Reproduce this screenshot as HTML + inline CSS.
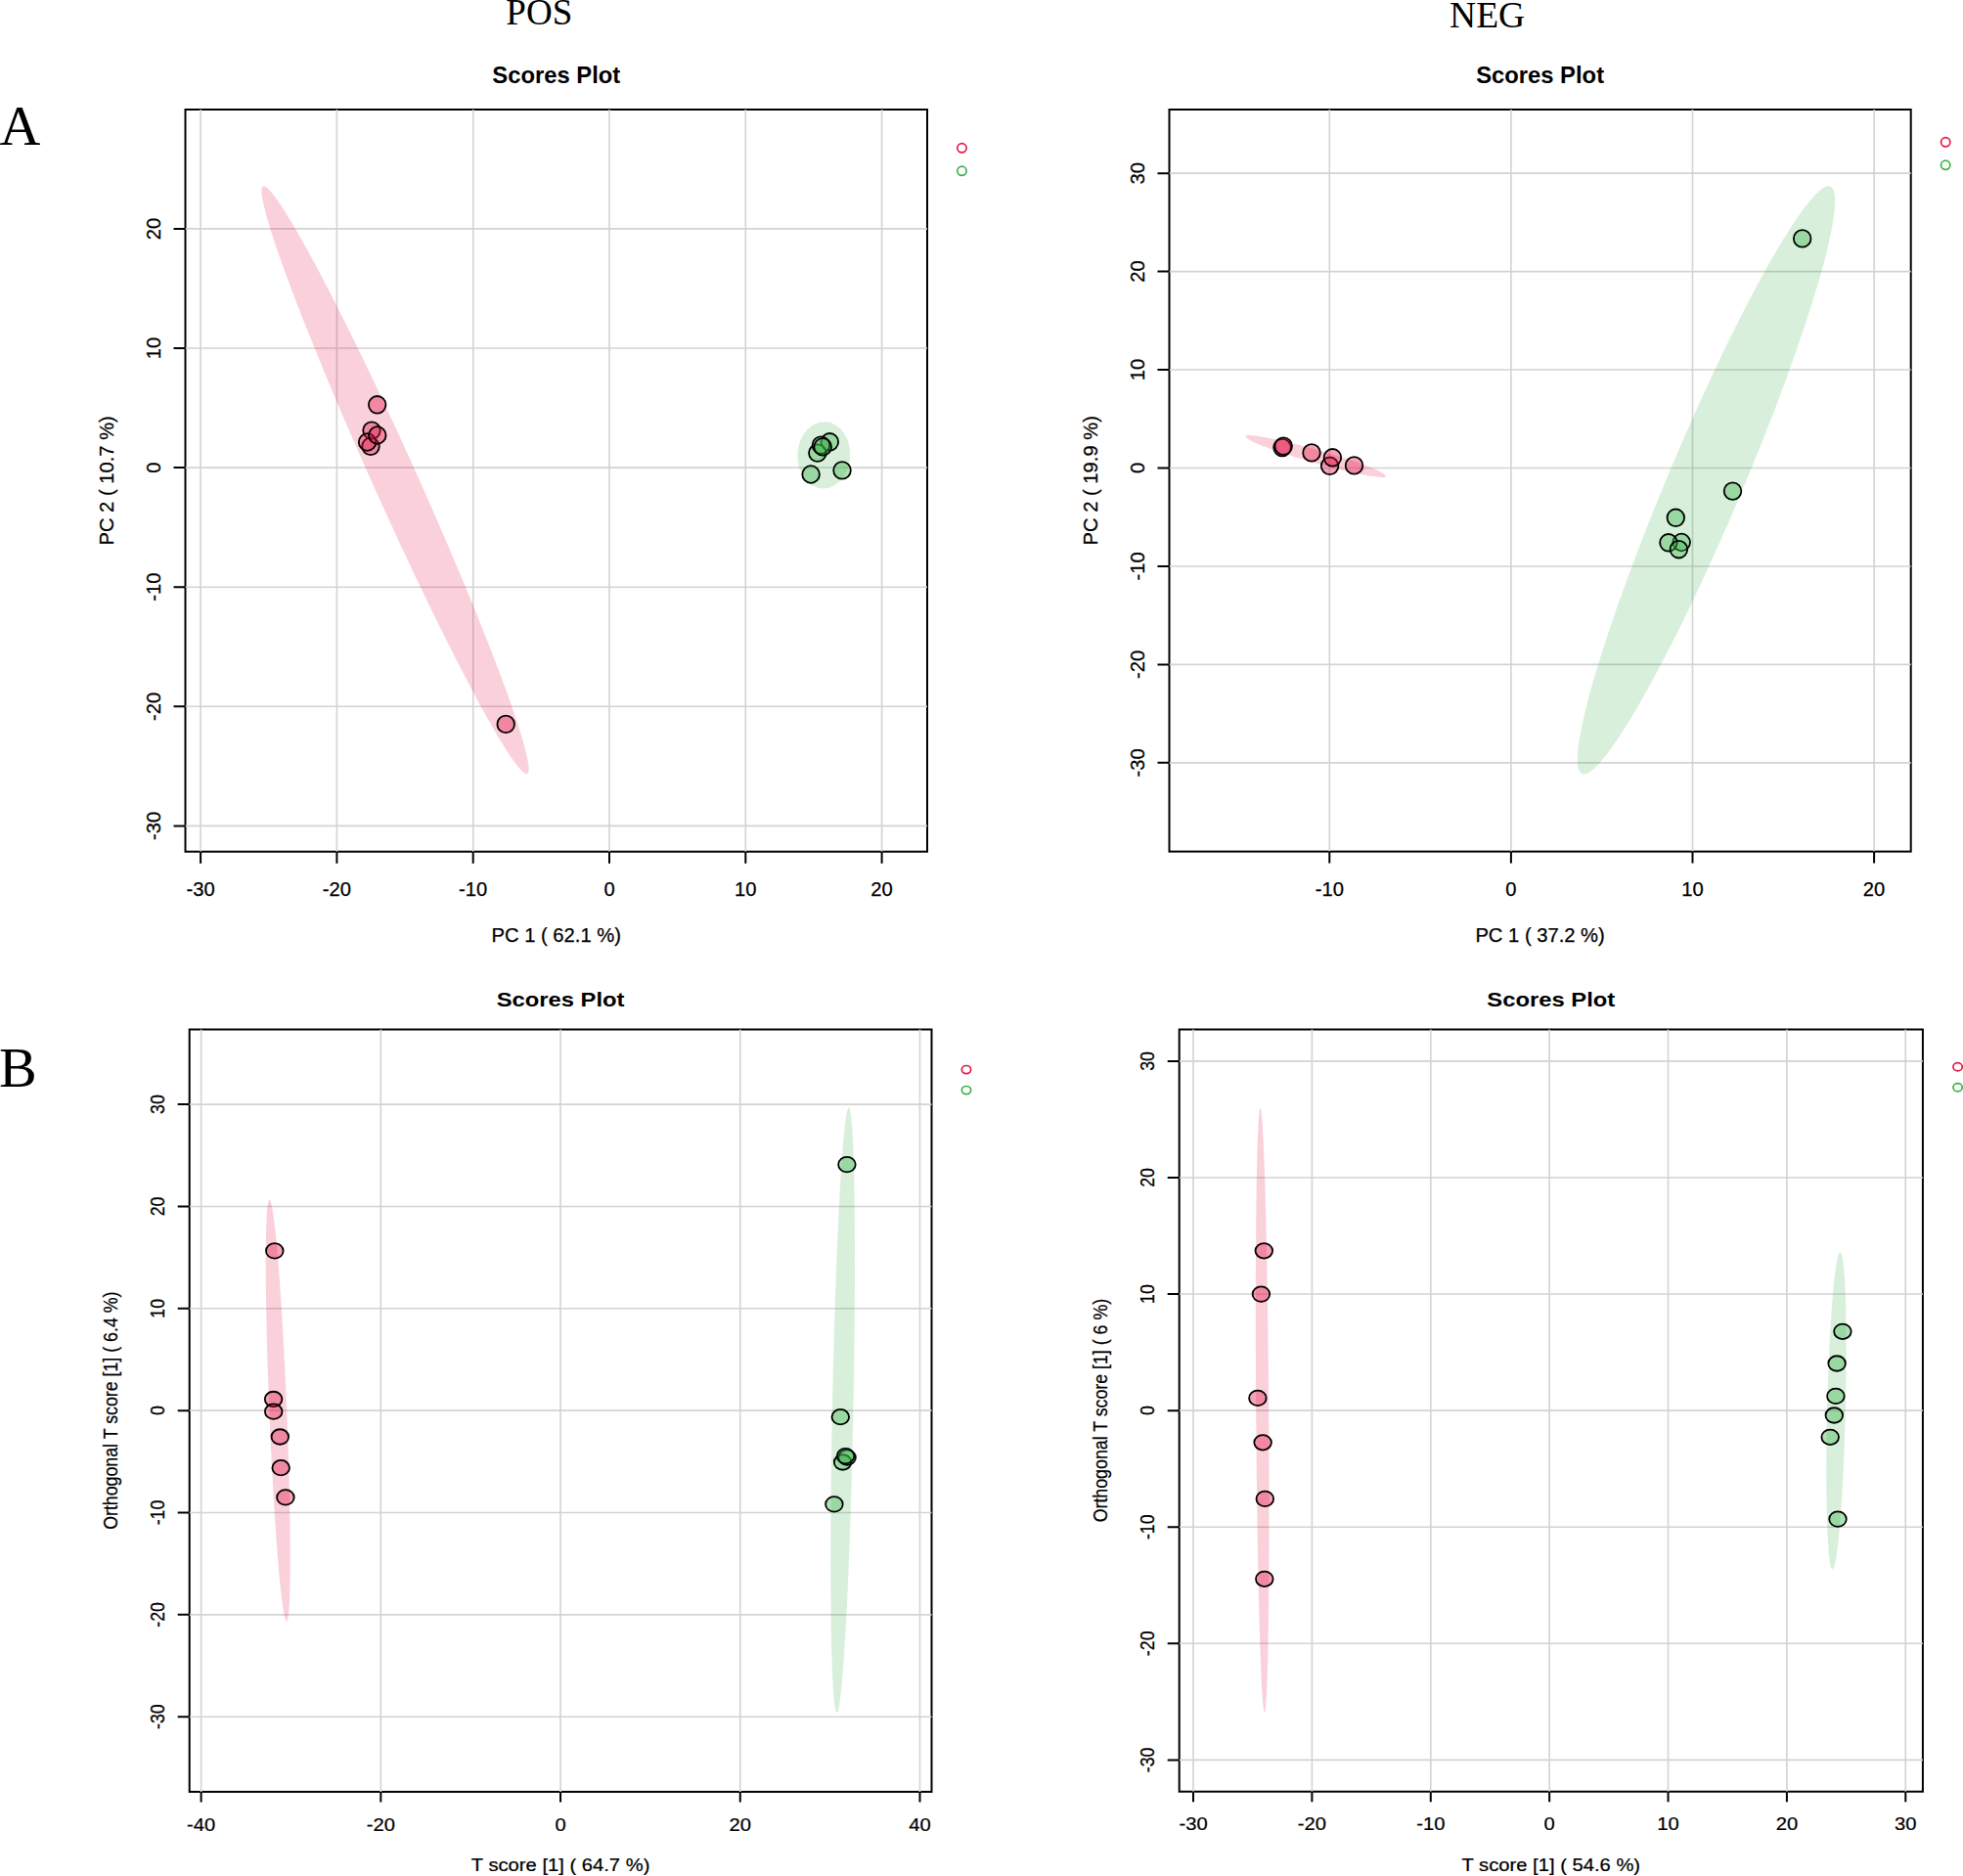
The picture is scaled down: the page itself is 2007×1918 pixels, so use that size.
<!DOCTYPE html>
<html><head><meta charset="utf-8"><title>Scores Plot</title>
<style>
html,body{margin:0;padding:0;background:#fff;}
body{width:2007px;height:1918px;overflow:hidden;}
svg{display:block;}
.t{font-family:"Liberation Sans",Arial,sans-serif;font-size:20.2px;text-anchor:middle;fill:#000;stroke:#000;stroke-width:0.25px;}
.m{font-family:"Liberation Sans",Arial,sans-serif;font-size:23.8px;font-weight:bold;text-anchor:middle;fill:#000;}
.big{font-family:"Liberation Serif","Times New Roman",serif;font-size:37px;text-anchor:middle;fill:#000;}
.let{font-family:"Liberation Serif","Times New Roman",serif;font-size:58px;fill:#000;}
</style></head>
<body>
<svg width="2007" height="1918" viewBox="0 0 2007 1918">
<rect width="2007" height="1918" fill="#fff"/>
<text class="big" x="551.3" y="25">POS</text>
<text class="big" x="1520.6" y="28" style="font-size:37.5px">NEG</text>
<text class="let" x="-0.5" y="147.8">A</text>
<text class="let" x="-1" y="1110.6">B</text>
<rect x="189.5" y="112" width="758.5" height="758.7" fill="none" stroke="#000" stroke-width="2"/>
<path d="M205.1 112V870.7M344.4 112V870.7M483.7 112V870.7M623 112V870.7M762.3 112V870.7M901.6 112V870.7M189.5 844.4H948M189.5 722.3H948M189.5 600.2H948M189.5 478.1H948M189.5 356H948M189.5 233.9H948" stroke="#d3d3d3" stroke-width="1.6" fill="none"/>
<path d="M205.1 870.7v12M344.4 870.7v12M483.7 870.7v12M623 870.7v12M762.3 870.7v12M901.6 870.7v12M189.5 844.4h-12M189.5 722.3h-12M189.5 600.2h-12M189.5 478.1h-12M189.5 356h-12M189.5 233.9h-12" stroke="#000" stroke-width="2" fill="none"/>
<text class="t" transform="translate(205.1 915.7) scale(1 1)">-30</text>
<text class="t" transform="translate(344.4 915.7) scale(1 1)">-20</text>
<text class="t" transform="translate(483.7 915.7) scale(1 1)">-10</text>
<text class="t" transform="translate(623 915.7) scale(1 1)">0</text>
<text class="t" transform="translate(762.3 915.7) scale(1 1)">10</text>
<text class="t" transform="translate(901.6 915.7) scale(1 1)">20</text>
<text class="t" transform="translate(163.5 844.4) scale(1 1) rotate(-90)">-30</text>
<text class="t" transform="translate(163.5 722.3) scale(1 1) rotate(-90)">-20</text>
<text class="t" transform="translate(163.5 600.2) scale(1 1) rotate(-90)">-10</text>
<text class="t" transform="translate(163.5 478.1) scale(1 1) rotate(-90)">0</text>
<text class="t" transform="translate(163.5 356) scale(1 1) rotate(-90)">10</text>
<text class="t" transform="translate(163.5 233.9) scale(1 1) rotate(-90)">20</text>
<text class="t" transform="translate(568.75 963) scale(1 1)">PC 1 ( 62.1 %)</text>
<text class="t" transform="translate(115.7 491.35) scale(1 1) rotate(-90)">PC 2 ( 10.7 %)</text>
<text class="m" transform="translate(568.75 85.1) scale(1 1)">Scores Plot</text>
<clipPath id="c139989327846560"><rect x="189.5" y="112" width="758.5" height="758.7"/></clipPath>
<g clip-path="url(#c139989327846560)">
<ellipse cx="404" cy="490.75" rx="329.26" ry="22.58" transform="rotate(65.79 404 490.75)" fill="#e6194B" fill-opacity="0.2"/>
<ellipse cx="842.3" cy="465.4" rx="34.16" ry="26.99" transform="rotate(92.23 842.3 465.4)" fill="#3cb44b" fill-opacity="0.2"/>
<ellipse cx="385.7" cy="413.8" rx="8.8" ry="8.8" fill="#e6194B" fill-opacity="0.4" stroke="#000" stroke-width="1.8"/>
<ellipse cx="380" cy="440.1" rx="8.8" ry="8.8" fill="#e6194B" fill-opacity="0.4" stroke="#000" stroke-width="1.8"/>
<ellipse cx="379" cy="456.3" rx="8.8" ry="8.8" fill="#e6194B" fill-opacity="0.4" stroke="#000" stroke-width="1.8"/>
<ellipse cx="375.6" cy="452" rx="8.8" ry="8.8" fill="#e6194B" fill-opacity="0.4" stroke="#000" stroke-width="1.8"/>
<ellipse cx="385.8" cy="445" rx="8.8" ry="8.8" fill="#e6194B" fill-opacity="0.4" stroke="#000" stroke-width="1.8"/>
<ellipse cx="517.2" cy="740.4" rx="8.8" ry="8.8" fill="#e6194B" fill-opacity="0.4" stroke="#000" stroke-width="1.8"/>
<ellipse cx="829.1" cy="485" rx="8.8" ry="8.8" fill="#3cb44b" fill-opacity="0.4" stroke="#000" stroke-width="1.8"/>
<ellipse cx="861" cy="480.9" rx="8.8" ry="8.8" fill="#3cb44b" fill-opacity="0.4" stroke="#000" stroke-width="1.8"/>
<ellipse cx="848.3" cy="451.8" rx="8.8" ry="8.8" fill="#3cb44b" fill-opacity="0.4" stroke="#000" stroke-width="1.8"/>
<ellipse cx="835.8" cy="463.1" rx="8.8" ry="8.8" fill="#3cb44b" fill-opacity="0.4" stroke="#000" stroke-width="1.8"/>
<ellipse cx="839.4" cy="455.1" rx="8.8" ry="8.8" fill="#3cb44b" fill-opacity="0.4" stroke="#000" stroke-width="1.8"/>
<ellipse cx="841.2" cy="456.9" rx="8.8" ry="8.8" fill="#3cb44b" fill-opacity="0.4" stroke="#000" stroke-width="1.8"/>
</g>
<ellipse cx="983.45" cy="151.3" rx="4.65" ry="4.65" fill="none" stroke="#e6194B" stroke-width="1.7"/>
<ellipse cx="983.45" cy="174.8" rx="4.65" ry="4.65" fill="none" stroke="#3cb44b" stroke-width="1.7"/>
<rect x="1195.5" y="112" width="758.2" height="758.6" fill="none" stroke="#000" stroke-width="2"/>
<path d="M1359.3 112V870.6M1544.9 112V870.6M1730.5 112V870.6M1916.1 112V870.6M1195.5 779.85H1953.7M1195.5 679.4H1953.7M1195.5 578.95H1953.7M1195.5 478.5H1953.7M1195.5 378.05H1953.7M1195.5 277.6H1953.7M1195.5 177.15H1953.7" stroke="#d3d3d3" stroke-width="1.6" fill="none"/>
<path d="M1359.3 870.6v12M1544.9 870.6v12M1730.5 870.6v12M1916.1 870.6v12M1195.5 779.85h-12M1195.5 679.4h-12M1195.5 578.95h-12M1195.5 478.5h-12M1195.5 378.05h-12M1195.5 277.6h-12M1195.5 177.15h-12" stroke="#000" stroke-width="2" fill="none"/>
<text class="t" transform="translate(1359.3 915.6) scale(1 1)">-10</text>
<text class="t" transform="translate(1544.9 915.6) scale(1 1)">0</text>
<text class="t" transform="translate(1730.5 915.6) scale(1 1)">10</text>
<text class="t" transform="translate(1916.1 915.6) scale(1 1)">20</text>
<text class="t" transform="translate(1169.5 779.85) scale(1 1) rotate(-90)">-30</text>
<text class="t" transform="translate(1169.5 679.4) scale(1 1) rotate(-90)">-20</text>
<text class="t" transform="translate(1169.5 578.95) scale(1 1) rotate(-90)">-10</text>
<text class="t" transform="translate(1169.5 478.5) scale(1 1) rotate(-90)">0</text>
<text class="t" transform="translate(1169.5 378.05) scale(1 1) rotate(-90)">10</text>
<text class="t" transform="translate(1169.5 277.6) scale(1 1) rotate(-90)">20</text>
<text class="t" transform="translate(1169.5 177.15) scale(1 1) rotate(-90)">30</text>
<text class="t" transform="translate(1574.6 962.9) scale(1 1)">PC 1 ( 37.2 %)</text>
<text class="t" transform="translate(1121.7 491.3) scale(1 1) rotate(-90)">PC 2 ( 19.9 %)</text>
<text class="m" transform="translate(1574.6 85.1) scale(1 1)">Scores Plot</text>
<clipPath id="c139989327846608"><rect x="1195.5" y="112" width="758.2" height="758.6"/></clipPath>
<g clip-path="url(#c139989327846608)">
<ellipse cx="1345.2" cy="466.5" rx="74.42" ry="6.73" transform="rotate(15.89 1345.2 466.5)" fill="#e6194B" fill-opacity="0.2"/>
<ellipse cx="1744.5" cy="490.9" rx="326.07" ry="37.99" transform="rotate(112.92 1744.5 490.9)" fill="#3cb44b" fill-opacity="0.2"/>
<ellipse cx="1311" cy="457.6" rx="8.8" ry="8.8" fill="#e6194B" fill-opacity="0.4" stroke="#000" stroke-width="1.8"/>
<ellipse cx="1312.2" cy="456.1" rx="8.8" ry="8.8" fill="#e6194B" fill-opacity="0.4" stroke="#000" stroke-width="1.8"/>
<ellipse cx="1341" cy="462.9" rx="8.8" ry="8.8" fill="#e6194B" fill-opacity="0.4" stroke="#000" stroke-width="1.8"/>
<ellipse cx="1359.6" cy="476.3" rx="8.8" ry="8.8" fill="#e6194B" fill-opacity="0.4" stroke="#000" stroke-width="1.8"/>
<ellipse cx="1362.4" cy="467.8" rx="8.8" ry="8.8" fill="#e6194B" fill-opacity="0.4" stroke="#000" stroke-width="1.8"/>
<ellipse cx="1384.5" cy="475.9" rx="8.8" ry="8.8" fill="#e6194B" fill-opacity="0.4" stroke="#000" stroke-width="1.8"/>
<ellipse cx="1842.7" cy="243.9" rx="8.8" ry="8.8" fill="#3cb44b" fill-opacity="0.4" stroke="#000" stroke-width="1.8"/>
<ellipse cx="1771.5" cy="502.1" rx="8.8" ry="8.8" fill="#3cb44b" fill-opacity="0.4" stroke="#000" stroke-width="1.8"/>
<ellipse cx="1713.3" cy="529.3" rx="8.8" ry="8.8" fill="#3cb44b" fill-opacity="0.4" stroke="#000" stroke-width="1.8"/>
<ellipse cx="1719.2" cy="554.5" rx="8.8" ry="8.8" fill="#3cb44b" fill-opacity="0.4" stroke="#000" stroke-width="1.8"/>
<ellipse cx="1705.9" cy="554.8" rx="8.8" ry="8.8" fill="#3cb44b" fill-opacity="0.4" stroke="#000" stroke-width="1.8"/>
<ellipse cx="1716.4" cy="561.7" rx="8.8" ry="8.8" fill="#3cb44b" fill-opacity="0.4" stroke="#000" stroke-width="1.8"/>
</g>
<ellipse cx="1989.2" cy="145.3" rx="4.65" ry="4.65" fill="none" stroke="#e6194B" stroke-width="1.7"/>
<ellipse cx="1989.2" cy="168.8" rx="4.65" ry="4.65" fill="none" stroke="#3cb44b" stroke-width="1.7"/>
<rect x="193.7" y="1052.5" width="758.8" height="779.4" fill="none" stroke="#000" stroke-width="2"/>
<path d="M205.61 1052.5V1831.9M389.33 1052.5V1831.9M573.05 1052.5V1831.9M756.77 1052.5V1831.9M940.49 1052.5V1831.9M193.7 1755.2H952.5M193.7 1650.85H952.5M193.7 1546.5H952.5M193.7 1442.15H952.5M193.7 1337.8H952.5M193.7 1233.45H952.5M193.7 1129.1H952.5" stroke="#d3d3d3" stroke-width="1.6" fill="none"/>
<path d="M205.61 1831.9v10.56M389.33 1831.9v10.56M573.05 1831.9v10.56M756.77 1831.9v10.56M940.49 1831.9v10.56M193.7 1755.2h-12M193.7 1650.85h-12M193.7 1546.5h-12M193.7 1442.15h-12M193.7 1337.8h-12M193.7 1233.45h-12M193.7 1129.1h-12" stroke="#000" stroke-width="2" fill="none"/>
<text class="t" transform="translate(205.61 1871.5) scale(1 0.88)">-40</text>
<text class="t" transform="translate(389.33 1871.5) scale(1 0.88)">-20</text>
<text class="t" transform="translate(573.05 1871.5) scale(1 0.88)">0</text>
<text class="t" transform="translate(756.77 1871.5) scale(1 0.88)">20</text>
<text class="t" transform="translate(940.49 1871.5) scale(1 0.88)">40</text>
<text class="t" transform="translate(167.7 1755.2) scale(1 0.88) rotate(-90)">-30</text>
<text class="t" transform="translate(167.7 1650.85) scale(1 0.88) rotate(-90)">-20</text>
<text class="t" transform="translate(167.7 1546.5) scale(1 0.88) rotate(-90)">-10</text>
<text class="t" transform="translate(167.7 1442.15) scale(1 0.88) rotate(-90)">0</text>
<text class="t" transform="translate(167.7 1337.8) scale(1 0.88) rotate(-90)">10</text>
<text class="t" transform="translate(167.7 1233.45) scale(1 0.88) rotate(-90)">20</text>
<text class="t" transform="translate(167.7 1129.1) scale(1 0.88) rotate(-90)">30</text>
<text class="t" transform="translate(573.1 1913.12) scale(1 0.88)">T score [1] ( 64.7 %)</text>
<text class="t" transform="translate(119.9 1442.2) scale(1 0.88) rotate(-90)">Orthogonal T score [1] ( 6.4 %)</text>
<text class="m" transform="translate(573.1 1028.83) scale(1 0.88)">Scores Plot</text>
<clipPath id="c139989327846704"><rect x="193.7" y="1052.5" width="758.8" height="779.4"/></clipPath>
<g clip-path="url(#c139989327846704)">
<ellipse cx="284.25" cy="1442.05" rx="215.63" ry="8.94" transform="rotate(87.67 284.25 1442.05)" fill="#e6194B" fill-opacity="0.2"/>
<ellipse cx="861.65" cy="1441.85" rx="309.31" ry="10.76" transform="rotate(91.14 861.65 1441.85)" fill="#3cb44b" fill-opacity="0.2"/>
<ellipse cx="280.8" cy="1278.9" rx="8.8" ry="7.74" fill="#e6194B" fill-opacity="0.4" stroke="#000" stroke-width="1.8"/>
<ellipse cx="279.6" cy="1430.5" rx="8.8" ry="7.74" fill="#e6194B" fill-opacity="0.4" stroke="#000" stroke-width="1.8"/>
<ellipse cx="279.7" cy="1443.2" rx="8.8" ry="7.74" fill="#e6194B" fill-opacity="0.4" stroke="#000" stroke-width="1.8"/>
<ellipse cx="286.3" cy="1469" rx="8.8" ry="7.74" fill="#e6194B" fill-opacity="0.4" stroke="#000" stroke-width="1.8"/>
<ellipse cx="287.2" cy="1500.7" rx="8.8" ry="7.74" fill="#e6194B" fill-opacity="0.4" stroke="#000" stroke-width="1.8"/>
<ellipse cx="291.9" cy="1530.9" rx="8.8" ry="7.74" fill="#e6194B" fill-opacity="0.4" stroke="#000" stroke-width="1.8"/>
<ellipse cx="865.9" cy="1190.6" rx="8.8" ry="7.74" fill="#3cb44b" fill-opacity="0.4" stroke="#000" stroke-width="1.8"/>
<ellipse cx="859.3" cy="1448.7" rx="8.8" ry="7.74" fill="#3cb44b" fill-opacity="0.4" stroke="#000" stroke-width="1.8"/>
<ellipse cx="861.6" cy="1495" rx="8.8" ry="7.74" fill="#3cb44b" fill-opacity="0.4" stroke="#000" stroke-width="1.8"/>
<ellipse cx="866.1" cy="1490.1" rx="8.8" ry="7.74" fill="#3cb44b" fill-opacity="0.4" stroke="#000" stroke-width="1.8"/>
<ellipse cx="864.5" cy="1488.7" rx="8.8" ry="7.74" fill="#3cb44b" fill-opacity="0.4" stroke="#000" stroke-width="1.8"/>
<ellipse cx="852.9" cy="1537.9" rx="8.8" ry="7.74" fill="#3cb44b" fill-opacity="0.4" stroke="#000" stroke-width="1.8"/>
</g>
<ellipse cx="988" cy="1093.6" rx="4.65" ry="4.09" fill="none" stroke="#e6194B" stroke-width="1.7"/>
<ellipse cx="988" cy="1114.6" rx="4.65" ry="4.09" fill="none" stroke="#3cb44b" stroke-width="1.7"/>
<rect x="1205.7" y="1052.5" width="760.2" height="779.2" fill="none" stroke="#000" stroke-width="2"/>
<path d="M1220.01 1052.5V1831.7M1341.39 1052.5V1831.7M1462.77 1052.5V1831.7M1584.15 1052.5V1831.7M1705.53 1052.5V1831.7M1826.91 1052.5V1831.7M1948.29 1052.5V1831.7M1205.7 1799.39H1965.9M1205.7 1680.31H1965.9M1205.7 1561.23H1965.9M1205.7 1442.15H1965.9M1205.7 1323.07H1965.9M1205.7 1203.99H1965.9M1205.7 1084.91H1965.9" stroke="#d3d3d3" stroke-width="1.6" fill="none"/>
<path d="M1220.01 1831.7v10.56M1341.39 1831.7v10.56M1462.77 1831.7v10.56M1584.15 1831.7v10.56M1705.53 1831.7v10.56M1826.91 1831.7v10.56M1948.29 1831.7v10.56M1205.7 1799.39h-12M1205.7 1680.31h-12M1205.7 1561.23h-12M1205.7 1442.15h-12M1205.7 1323.07h-12M1205.7 1203.99h-12M1205.7 1084.91h-12" stroke="#000" stroke-width="2" fill="none"/>
<text class="t" transform="translate(1220.01 1871.3) scale(1 0.88)">-30</text>
<text class="t" transform="translate(1341.39 1871.3) scale(1 0.88)">-20</text>
<text class="t" transform="translate(1462.77 1871.3) scale(1 0.88)">-10</text>
<text class="t" transform="translate(1584.15 1871.3) scale(1 0.88)">0</text>
<text class="t" transform="translate(1705.53 1871.3) scale(1 0.88)">10</text>
<text class="t" transform="translate(1826.91 1871.3) scale(1 0.88)">20</text>
<text class="t" transform="translate(1948.29 1871.3) scale(1 0.88)">30</text>
<text class="t" transform="translate(1179.7 1799.39) scale(1 0.88) rotate(-90)">-30</text>
<text class="t" transform="translate(1179.7 1680.31) scale(1 0.88) rotate(-90)">-20</text>
<text class="t" transform="translate(1179.7 1561.23) scale(1 0.88) rotate(-90)">-10</text>
<text class="t" transform="translate(1179.7 1442.15) scale(1 0.88) rotate(-90)">0</text>
<text class="t" transform="translate(1179.7 1323.07) scale(1 0.88) rotate(-90)">10</text>
<text class="t" transform="translate(1179.7 1203.99) scale(1 0.88) rotate(-90)">20</text>
<text class="t" transform="translate(1179.7 1084.91) scale(1 0.88) rotate(-90)">30</text>
<text class="t" transform="translate(1585.8 1912.92) scale(1 0.88)">T score [1] ( 54.6 %)</text>
<text class="t" transform="translate(1131.9 1442.1) scale(1 0.88) rotate(-90)">Orthogonal T score [1] ( 6 %)</text>
<text class="m" transform="translate(1585.8 1028.83) scale(1 0.88)">Scores Plot</text>
<clipPath id="c139989327846752"><rect x="1205.7" y="1052.5" width="760.2" height="779.2"/></clipPath>
<g clip-path="url(#c139989327846752)">
<ellipse cx="1290.7" cy="1441.95" rx="308.96" ry="6.5" transform="rotate(89.59 1290.7 1441.95)" fill="#e6194B" fill-opacity="0.2"/>
<ellipse cx="1877.45" cy="1442.15" rx="162.3" ry="9.4" transform="rotate(91.4 1877.45 1442.15)" fill="#3cb44b" fill-opacity="0.2"/>
<ellipse cx="1292.3" cy="1278.8" rx="8.8" ry="7.74" fill="#e6194B" fill-opacity="0.4" stroke="#000" stroke-width="1.8"/>
<ellipse cx="1289.4" cy="1323.1" rx="8.8" ry="7.74" fill="#e6194B" fill-opacity="0.4" stroke="#000" stroke-width="1.8"/>
<ellipse cx="1285.9" cy="1429.4" rx="8.8" ry="7.74" fill="#e6194B" fill-opacity="0.4" stroke="#000" stroke-width="1.8"/>
<ellipse cx="1291.1" cy="1474.8" rx="8.8" ry="7.74" fill="#e6194B" fill-opacity="0.4" stroke="#000" stroke-width="1.8"/>
<ellipse cx="1293.3" cy="1532.4" rx="8.8" ry="7.74" fill="#e6194B" fill-opacity="0.4" stroke="#000" stroke-width="1.8"/>
<ellipse cx="1292.8" cy="1614.3" rx="8.8" ry="7.74" fill="#e6194B" fill-opacity="0.4" stroke="#000" stroke-width="1.8"/>
<ellipse cx="1883.9" cy="1361.3" rx="8.8" ry="7.74" fill="#3cb44b" fill-opacity="0.4" stroke="#000" stroke-width="1.8"/>
<ellipse cx="1878.1" cy="1394" rx="8.8" ry="7.74" fill="#3cb44b" fill-opacity="0.4" stroke="#000" stroke-width="1.8"/>
<ellipse cx="1876.9" cy="1427.4" rx="8.8" ry="7.74" fill="#3cb44b" fill-opacity="0.4" stroke="#000" stroke-width="1.8"/>
<ellipse cx="1875.3" cy="1447" rx="8.8" ry="7.74" fill="#3cb44b" fill-opacity="0.4" stroke="#000" stroke-width="1.8"/>
<ellipse cx="1871.2" cy="1469.3" rx="8.8" ry="7.74" fill="#3cb44b" fill-opacity="0.4" stroke="#000" stroke-width="1.8"/>
<ellipse cx="1879" cy="1553.1" rx="8.8" ry="7.74" fill="#3cb44b" fill-opacity="0.4" stroke="#000" stroke-width="1.8"/>
</g>
<ellipse cx="2001.6" cy="1090.8" rx="4.65" ry="4.09" fill="none" stroke="#e6194B" stroke-width="1.7"/>
<ellipse cx="2001.6" cy="1111.8" rx="4.65" ry="4.09" fill="none" stroke="#3cb44b" stroke-width="1.7"/>
</svg>
</body></html>
